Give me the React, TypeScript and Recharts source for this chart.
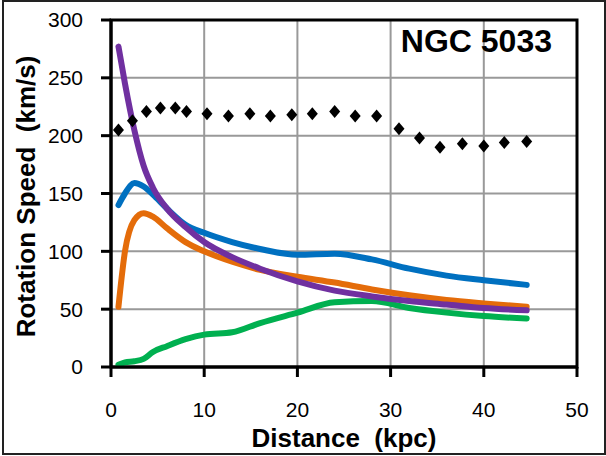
import { ComposedChart, Line, Scatter, XAxis, YAxis, CartesianGrid, ReferenceArea, Label } from 'recharts';

// radius in kpc, shared by the model curves
const radius = [0.8, 1.5, 2.5, 3.5, 4.5, 6, 8, 10, 13, 16, 20, 24, 28, 32, 36, 40, 44.6];
const totalModel = [140, 150, 159, 156, 149, 137, 123, 116, 108, 102, 97, 98, 93, 85, 79, 75, 71];
const diskModel = [52, 100, 127, 133, 130, 120, 108, 100, 91, 84, 78, 73, 67, 62, 58, 55, 52];
const bulgeModel = [277, 245, 205, 174, 155, 137, 121, 108, 95, 85, 74, 66, 61, 57, 54, 51, 49];
const gasModel = [2, 4, 5, 7, 13, 18, 24, 28, 30, 38, 47, 56, 57, 51, 47, 44, 42];

// observed rotation speeds
const obsRadius = [0.8, 2.3, 3.8, 5.3, 6.9, 8.1, 10.3, 12.6, 14.9, 17.1, 19.4, 21.6, 24.0, 26.2, 28.5, 30.9, 33.1, 35.3, 37.7, 40.0, 42.2, 44.6];
const obsSpeed = [205, 213, 221, 224, 224, 221, 219, 217, 219, 217, 218, 219, 221, 217, 217, 206, 198, 190, 193, 191, 194, 195];

const xTicks = [0, 10, 20, 30, 40, 50];
const yTicks = [0, 50, 100, 150, 200, 250, 300];

const curves = radius.map((r, i) => ({
  x: r,
  total: totalModel[i],
  disk: diskModel[i],
  bulge: bulgeModel[i],
  gas: gasModel[i],
}));
const observed = obsRadius.map((r, i) => ({ x: r, v: obsSpeed[i] }));

const Diamond = (props: any) => {
  const { cx, cy } = props;
  if (cx == null || cy == null) return null;
  return <polygon points={`${cx},${cy - 6.5} ${cx + 5.5},${cy} ${cx},${cy + 6.5} ${cx - 5.5},${cy}`} fill="#000" />;
};

const font = '"Liberation Sans", Arial, sans-serif';

export default function App() {
  return (
    <div style={{ position: 'absolute', left: 0, top: 0, width: 606, height: 456, background: '#fff', fontFamily: font }}>
      <ComposedChart width={606} height={456} data={curves} margin={{ top: 20, right: 29, left: 0, bottom: 0 }}>
        <CartesianGrid stroke="#999" strokeWidth={2} />
        <XAxis
          dataKey="x"
          type="number"
          domain={[0, 50]}
          ticks={xTicks}
          height={89}
          tickSize={10}
          tickMargin={25}
          axisLine={{ stroke: '#000', strokeWidth: 3 }}
          tickLine={{ stroke: '#000', strokeWidth: 3 }}
          tick={{ fill: '#000', fontSize: 21, fontFamily: font }}
        >
          <Label value={'Distance \u00A0(kpc)'} position="insideBottom" offset={9} fill="#000" fontSize={26} fontWeight="bold" fontFamily={font} />
        </XAxis>
        <YAxis
          type="number"
          domain={[0, 300]}
          ticks={yTicks}
          width={111}
          tickSize={10}
          tickMargin={18}
          axisLine={{ stroke: '#000', strokeWidth: 3 }}
          tickLine={{ stroke: '#000', strokeWidth: 3 }}
          tick={{ fill: '#000', fontSize: 21, fontFamily: font }}
        >
          <Label value={'Rotation Speed \u00A0(km/s)'} position="center" angle={-90} dx={-30} dy={3} fill="#000" fontSize={26} fontWeight="bold" fontFamily={font} />
        </YAxis>
        <ReferenceArea x1={0} x2={50} y1={0} y2={300} fill="none" stroke="#000" strokeWidth={3}>
          <Label value="NGC 5033" position="insideTopRight" dx={-20} dy={4} fill="#000" fontSize={32} fontWeight="bold" fontFamily={font} />
        </ReferenceArea>
        <Line dataKey="gas" type="monotone" stroke="#00B050" strokeWidth={6} strokeLinecap="round" dot={false} isAnimationActive={false} />
        <Line dataKey="total" type="monotone" stroke="#0070C0" strokeWidth={6} strokeLinecap="round" dot={false} isAnimationActive={false} />
        <Line dataKey="disk" type="monotone" stroke="#E46C0A" strokeWidth={6} strokeLinecap="round" dot={false} isAnimationActive={false} />
        <Line dataKey="bulge" type="monotone" stroke="#7030A0" strokeWidth={6} strokeLinecap="round" dot={false} isAnimationActive={false} />
        <Scatter data={observed} dataKey="v" shape={<Diamond />} isAnimationActive={false} />
      </ComposedChart>
      <div style={{ position: 'absolute', left: 2, top: 0, width: 600, height: 451, border: '2px solid #222', pointerEvents: 'none' }} />
    </div>
  );
}
